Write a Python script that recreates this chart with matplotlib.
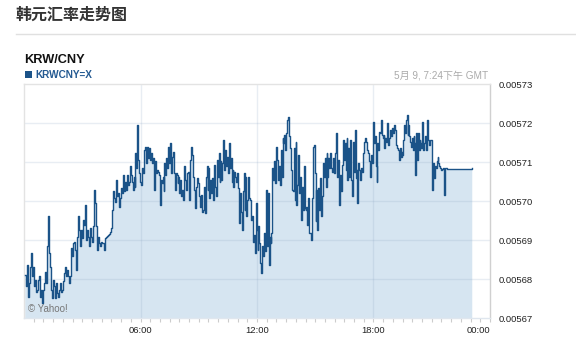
import numpy as np
import matplotlib
matplotlib.use("Agg")
import matplotlib.pyplot as plt
from matplotlib.patches import Rectangle
from matplotlib.lines import Line2D

# ---- data (KRW/CNY rate) ----
seg1 = [0.0056811, 0.0056781, 0.0056837, 0.0056755, 0.0056790, 0.0056832, 0.0056867, 0.0056807, 0.0056832, 0.0056781,
        0.0056798, 0.0056768, 0.0056772, 0.0056798, 0.0056807, 0.0056755, 0.0056772, 0.0056738, 0.0056772, 0.0056790,
        0.0056819, 0.0056790, 0.0056884, 0.0056962, 0.0056867, 0.0056832, 0.0056772, 0.0056751, 0.0056798, 0.0056781,
        0.0056751, 0.0056790, 0.0056764, 0.0056755, 0.0056772, 0.0056790, 0.0056768, 0.0056772, 0.0056794, 0.0056815,
        0.0056832, 0.0056807, 0.0056824, 0.0056807, 0.0056790, 0.0056807, 0.0056879, 0.0056858, 0.0056892, 0.0056896,
        0.0056875, 0.0056824, 0.0056909, 0.0056961, 0.0056926, 0.0056884, 0.0056926, 0.0056905, 0.0056952, 0.0056939,
        0.0056990, 0.0056901, 0.0056926, 0.0056909, 0.0056884, 0.0056931, 0.0056909, 0.0056896, 0.0056935, 0.0057029,
        0.0056995, 0.0056935, 0.0056875, 0.0056909, 0.0056892, 0.0056884, 0.0056896, 0.0056892, 0.0056892, 0.0056875,
        0.0056905, 0.0056909, 0.0056911, 0.0056913, 0.0056916, 0.0056920, 0.0056931, 0.0056978, 0.0057025]
seg2 = [0.0057008, 0.0056999, 0.0057055, 0.0057012, 0.0057020, 0.0056986, 0.0057003, 0.0057008, 0.0057033, 0.0057020,
        0.0057067, 0.0057025, 0.0057050, 0.0057029, 0.0057067, 0.0057042, 0.0057050, 0.0057089, 0.0057067, 0.0057050,
        0.0057029, 0.0057063, 0.0057037, 0.0057123, 0.0057084, 0.0057196, 0.0057106, 0.0057072, 0.0057050, 0.0057042,
        0.0057084, 0.0057072, 0.0057131, 0.0057140, 0.0057097, 0.0057140, 0.0057110, 0.0057127, 0.0057136, 0.0057106,
        0.0057123, 0.0057097, 0.0057110, 0.0057029, 0.0057102, 0.0057072, 0.0057080, 0.0057076, 0.0057067, 0.0056990,
        0.0057055, 0.0057046, 0.0057063, 0.0057025, 0.0057097, 0.0057067, 0.0057110, 0.0057084, 0.0057140, 0.0057097,
        0.0057149, 0.0057072, 0.0057114, 0.0057127, 0.0057072, 0.0057029, 0.0057072, 0.0057067, 0.0057046, 0.0057063,
        0.0057020, 0.0057055, 0.0057012, 0.0057029, 0.0057003, 0.0057089, 0.0057055, 0.0057029, 0.0057072, 0.0057076,
        0.0057003, 0.0057106, 0.0057140, 0.0057119, 0.0057102, 0.0057063, 0.0057029, 0.0056982, 0.0057037, 0.0057059,
        0.0057046, 0.0057012, 0.0056986, 0.0057016, 0.0056973]
seg3 = [0.0056978, 0.0057037, 0.0056969, 0.0057063, 0.0057089, 0.0057029, 0.0057084, 0.0057008, 0.0057055, 0.0057020,
        0.0057059, 0.0057003, 0.0057093, 0.0057037, 0.0057012, 0.0057106, 0.0057063, 0.0057123, 0.0057050, 0.0057102,
        0.0057055, 0.0057097, 0.0057157, 0.0057080, 0.0057131, 0.0057089, 0.0057114, 0.0057072, 0.0057149, 0.0057084,
        0.0057110, 0.0057050, 0.0057080, 0.0057037, 0.0057076, 0.0057063, 0.0057050, 0.0057072, 0.0057033, 0.0056943,
        0.0057020, 0.0056973, 0.0056926, 0.0057025, 0.0057072, 0.0056978, 0.0057063, 0.0056961, 0.0057003, 0.0057063,
        0.0057008, 0.0057003, 0.0056952, 0.0056961, 0.0056896, 0.0056913, 0.0056867, 0.0056995, 0.0056926, 0.0056875,
        0.0056935, 0.0056892, 0.0056841, 0.0056815, 0.0056884, 0.0056858, 0.0056918, 0.0056871, 0.0057029, 0.0056884,
        0.0057020, 0.0056837, 0.0056909, 0.0056892, 0.0056918, 0.0057084, 0.0057055, 0.0057102, 0.0057046, 0.0057140,
        0.0057106, 0.0057055, 0.0057089, 0.0057042, 0.0057131, 0.0057063, 0.0057161, 0.0057149, 0.0057170, 0.0057131,
        0.0057174, 0.0057208, 0.0057217, 0.0057166, 0.0057136, 0.0057080, 0.0057029]
seg4 = [0.0057025, 0.0057136, 0.0057003, 0.0057153, 0.0056990, 0.0057042, 0.0057119, 0.0057020, 0.0057063, 0.0056952,
        0.0057037, 0.0056978, 0.0057089, 0.0056982, 0.0056978, 0.0056986, 0.0056939, 0.0057008, 0.0056918, 0.0056918,
        0.0056901, 0.0057008, 0.0057140, 0.0057144, 0.0057072, 0.0056948, 0.0057029, 0.0056926, 0.0057033, 0.0056978,
        0.0057059, 0.0056961, 0.0057012, 0.0057097, 0.0057063, 0.0057110, 0.0057037, 0.0057123, 0.0057063, 0.0057110,
        0.0057084, 0.0057123, 0.0057084, 0.0057076, 0.0057110, 0.0057072, 0.0057123, 0.0057174, 0.0057136, 0.0057063,
        0.0057106, 0.0056990, 0.0057067, 0.0057025, 0.0057093, 0.0057157, 0.0057106, 0.0057149, 0.0057080, 0.0057161,
        0.0057055, 0.0057136, 0.0057063, 0.0057157, 0.0057055, 0.0057012, 0.0057153, 0.0057076, 0.0057183, 0.0057059,
        0.0057080, 0.0056995, 0.0057097, 0.0057080, 0.0057055, 0.0057084, 0.0057076, 0.0057123, 0.0057153, 0.0057161,
        0.0057153, 0.0057131, 0.0057131, 0.0057123, 0.0057102, 0.0057063, 0.0057119, 0.0057097, 0.0057204, 0.0057149,
        0.0057166, 0.0057089, 0.0057050, 0.0057149, 0.0057131, 0.0057178, 0.0057174, 0.0057208, 0.0057170]
seg5 = [0.0057161, 0.0057170, 0.0057136, 0.0057161, 0.0057153, 0.0057200, 0.0057144, 0.0057161, 0.0057174, 0.0057183,
        0.0057166, 0.0057187, 0.0057174, 0.0057196, 0.0057183, 0.0057153, 0.0057144, 0.0057136, 0.0057131, 0.0057106,
        0.0057136, 0.0057114, 0.0057127, 0.0057119, 0.0057157, 0.0057196, 0.0057174, 0.0057208, 0.0057221, 0.0057170,
        0.0057196, 0.0057166, 0.0057153, 0.0057140, 0.0057161, 0.0057131, 0.0057166, 0.0057149, 0.0057067, 0.0057174,
        0.0057106, 0.0057174, 0.0057131, 0.0057157, 0.0057149, 0.0057136, 0.0057204, 0.0057131, 0.0057149, 0.0057166,
        0.0057140, 0.0057131, 0.0057208, 0.0057157, 0.0057144, 0.0057157, 0.0057157, 0.0057127, 0.0057029, 0.0057097,
        0.0057059, 0.0057089, 0.0057084, 0.0057102, 0.0057114, 0.0057097, 0.0057089, 0.0057084, 0.0057080, 0.0057082,
        0.0057084, 0.0057050, 0.0057016, 0.0057084, 0.0057084, 0.0057082]
# sampling windows (hours since 00:00) for each segment
seg_hours = [(0.036, 4.565), (4.632, 9.161), (9.213, 13.793), (13.845, 18.44), (18.477, 21.786)]
last_hour = 23.06
last_rate = 0.0057086

y_ticks = [0.00567, 0.00568, 0.00569, 0.00570, 0.00571, 0.00572, 0.00573]
x_ticks = [6, 12, 18, 24]
x_labels = ["06:00", "12:00", "18:00", "00:00"]

segs = [seg1, seg2, seg3, seg4, seg5]
times = np.concatenate([np.linspace(a, b, len(s)) for (a, b), s in zip(seg_hours, segs)] + [[last_hour]])
rates = np.concatenate([np.array(s) for s in segs] + [[last_rate]])

W, H = 576, 350
fig = plt.figure(figsize=(W / 100, H / 100), dpi=100)
fig.patch.set_facecolor("white")

ax = fig.add_axes([24 / W, 1 - 318 / H, 466 / W, (318 - 84.3) / H])
ymin, ymax = y_ticks[0], y_ticks[-1]
ax.set_xlim(0, 24)
ax.set_ylim(ymin, ymax)

line_c = "#1b5388"
ax.fill_between(times, rates, ymin, step="post", color="#d6e5f1", lw=0, zorder=1)
grid_c = (140 / 255, 165 / 255, 195 / 255, 0.2)
for yv in y_ticks[1:-1]:
    ax.axhline(yv, color=grid_c, lw=1, zorder=2)
for xv in x_ticks[:-1]:
    ax.axvline(xv, color=grid_c, lw=1, zorder=2)
ax.plot(times, rates, color=line_c, lw=1.0, drawstyle="steps-post", zorder=3)

ax.yaxis.tick_right()
ax.set_yticks(y_ticks)
ax.set_yticklabels([f"{v:.5f}" for v in y_ticks])
ax.set_xticks(x_ticks)
ax.set_xticklabels(x_labels)
ax.set_xticks(np.arange(0.5, 24, 0.5), minor=True)
for lab in ax.get_xticklabels():
    lab.set_fontfamily("Liberation Sans")
ax.get_xticklabels()[-1].set_ha("right")
for lab in ax.get_yticklabels():
    lab.set_fontfamily("Liberation Sans")
ax.tick_params(axis="y", length=0, pad=6, labelsize=6.8, labelcolor="#222222")
ax.tick_params(axis="x", which="both", length=3, width=0.8, color="#cccccc",
               labelsize=6.8, labelcolor="#222222", pad=3)

for side in ["left", "top"]:
    ax.spines[side].set_color("#e3e3e3")
    ax.spines[side].set_linewidth(1)
ax.spines["right"].set_color("#d0d0d0")
ax.spines["bottom"].set_color("#dfe6ee")
ax.spines["right"].set_linewidth(1)
ax.spines["bottom"].set_linewidth(1)

# header texts
fig.text(16 / W, 1 - 15 / H, "韩元汇率走势图", va="center", ha="left", fontsize=11.5,
         fontweight="bold", color="#333333", family=["Noto Sans CJK SC", "DejaVu Sans"])
fig.add_artist(Line2D([16 / W, 1.0], [1 - 33.5 / H] * 2, color="#e0e0e0", lw=1))
fig.text(24 / W, 1 - 60 / H, "KRW/CNY", va="center", ha="left", fontsize=9.2,
         fontweight="bold", color="#111111", family="Liberation Sans")
fig.add_artist(Rectangle((25 / W, 1 - 78 / H), 7 / W, 7 / H, transform=fig.transFigure,
                         color=line_c, lw=0))
fig.text(35 / W, 1 - 74.5 / H, "KRWCNY=X", va="center", ha="left", fontsize=7.2,
         fontweight="bold", color="#245a92", family="Liberation Sans")
fig.text(488 / W, 1 - 75 / H, "5月 9, 7:24下午 GMT", va="center", ha="right", fontsize=7.2,
         color="#aaaaaa", family=["Liberation Sans", "Noto Sans CJK SC"])
fig.text(28 / W, 1 - 309.5 / H, "© Yahoo!", va="center", ha="left", fontsize=7,
         color="#777777", family="Liberation Sans")

fig.savefig("out.png", dpi=100)
